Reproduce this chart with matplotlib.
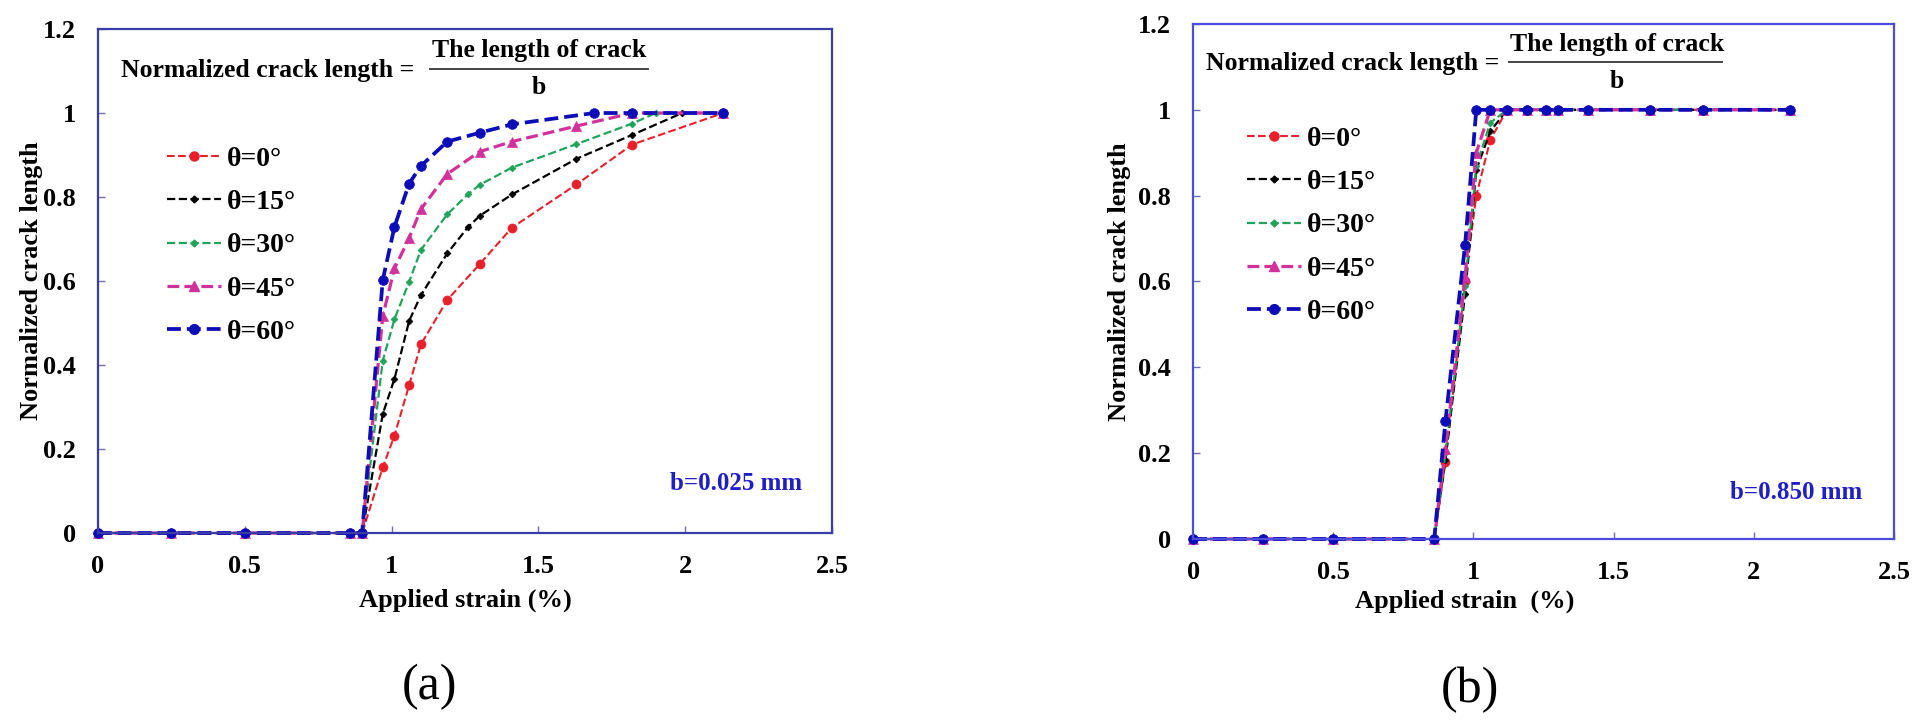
import numpy as np
import matplotlib.pyplot as plt
from matplotlib.lines import Line2D

plt.rcParams['font.family'] = ['Liberation Serif', 'DejaVu Serif']

## the data  (a) b = 0.025 mm
strain_a0 = [0, 0.25, 0.5, 0.86, 0.9, 0.97, 1.01, 1.06, 1.1, 1.19, 1.3, 1.41, 1.63, 1.82, 2.13]
crack_a0 = [0, 0, 0, 0, 0, 0.156, 0.232, 0.352, 0.449, 0.555, 0.64, 0.727, 0.83, 0.925, 1.0]

strain_a15 = [0, 0.25, 0.5, 0.86, 0.9, 0.97, 1.01, 1.06, 1.1, 1.19, 1.26, 1.3, 1.41, 1.63, 1.82, 1.99, 2.13]
crack_a15 = [0, 0, 0, 0, 0, 0.283, 0.367, 0.505, 0.566, 0.666, 0.728, 0.755, 0.806, 0.891, 0.948, 1.0, 1.0]

strain_a30 = [0, 0.25, 0.5, 0.86, 0.9, 0.97, 1.01, 1.06, 1.1, 1.19, 1.26, 1.3, 1.41, 1.63, 1.82, 1.9, 2.13]
crack_a30 = [0, 0, 0, 0, 0, 0.41, 0.509, 0.598, 0.674, 0.759, 0.806, 0.829, 0.87, 0.926, 0.975, 1.0, 1.0]

strain_a45 = [0, 0.25, 0.5, 0.86, 0.9, 0.97, 1.01, 1.06, 1.1, 1.19, 1.3, 1.41, 1.63, 1.82, 2.13]
crack_a45 = [0, 0, 0, 0, 0, 0.516, 0.63, 0.702, 0.771, 0.855, 0.908, 0.932, 0.969, 1.0, 1.0]

strain_a60 = [0, 0.25, 0.5, 0.86, 0.9, 0.97, 1.01, 1.06, 1.1, 1.19, 1.3, 1.41, 1.69, 1.82, 2.13]
crack_a60 = [0, 0, 0, 0, 0, 0.602, 0.729, 0.832, 0.874, 0.932, 0.953, 0.973, 1.0, 1.0, 1.0]

## (b) b = 0.850 mm
strain_b = [0, 0.25, 0.5, 0.86, 0.9, 0.97, 1.01, 1.06, 1.12, 1.19, 1.26, 1.3, 1.41, 1.63, 1.82, 2.13]
crack_b0 = [0, 0, 0, 0, 0.18, 0.6, 0.8, 0.93, 1, 1, 1, 1, 1, 1, 1, 1]
crack_b15 = [0, 0, 0, 0, 0.185, 0.57, 0.86, 0.95, 1, 1, 1, 1, 1, 1, 1, 1]
crack_b30 = [0, 0, 0, 0, 0.2, 0.59, 0.87, 0.97, 1, 1, 1, 1, 1, 1, 1, 1]
crack_b45 = [0, 0, 0, 0, 0.21, 0.61, 0.9, 1.0, 1, 1, 1, 1, 1, 1, 1, 1]
crack_b60 = [0, 0, 0, 0, 0.275, 0.685, 1.0, 1.0, 1, 1, 1, 1, 1, 1, 1, 1]

labels = ['θ=0°', 'θ=15°', 'θ=30°', 'θ=45°', 'θ=60°']
x_ticks = [0, 0.5, 1, 1.5, 2, 2.5]
x_tick_labels = ['0', '0.5', '1', '1.5', '2', '2.5']
y_ticks = [0, 0.2, 0.4, 0.6, 0.8, 1.0, 1.2]
y_tick_labels = ['0', '0.2', '0.4', '0.6', '0.8', '1', '1.2']

## styles: color, marker, markersize, linewidth
styles = [('#e8202a', 'o', 6.5, 1.5),
          ('black', 'D', 3.5, 1.6),
          ('#20a35a', 'D', 3.5, 1.6),
          ('#d2309a', '^', 6.5, 2.3),
          ('#0c0cb8', 'o', 7.0, 2.7)]

fig = plt.figure(figsize=(19.2, 7.2), dpi=100)
ax_a = fig.add_axes([0.0510, 0.2597, 0.3823, 0.7000])
ax_b = fig.add_axes([0.6214, 0.2514, 0.3651, 0.7153])


def draw(ax, xs, ys, spine_color):
    for x, y, (c, m, ms, lw) in zip(xs, ys, styles):
        ax.plot(x, y, linestyle='--', color=c, marker=m, markersize=ms,
                linewidth=lw, markeredgewidth=0.5, markeredgecolor=c,
                clip_on=False)
    ax.set_xlim(0, 2.5)
    ax.set_ylim(0, 1.2)
    ax.set_xticks(x_ticks)
    ax.set_xticklabels(x_tick_labels)
    ax.set_yticks(y_ticks)
    ax.set_yticklabels(y_tick_labels)
    ax.tick_params(direction='in', length=5, width=1, color='#7070b0',
                   labelsize=19, pad=16)
    for t in ax.get_xticklabels() + ax.get_yticklabels():
        t.set_fontweight('bold')
    for s in ax.spines.values():
        s.set_color(spine_color)
        s.set_linewidth(1.6)
    ax.set_ylabel('Normalized crack length', fontsize=19, fontweight='bold')
    handles = [Line2D([], [], linestyle='--', color=c, marker=m, markersize=ms,
                      linewidth=lw, markeredgecolor=c) for c, m, ms, lw in styles]
    return handles


def formula(ax, x0, yc, xb0, xb1, xc, ynum, yden, ybar):
    fs = 18.5
    ax.text(x0, yc, 'Normalized crack length =', transform=ax.transAxes,
            fontsize=fs, fontweight='bold', ha='left', va='center')
    ax.text(xc, ynum, 'The length of crack', transform=ax.transAxes,
            fontsize=fs, fontweight='bold', ha='center', va='center')
    ax.text(xc, yden, 'b', transform=ax.transAxes,
            fontsize=fs, fontweight='bold', ha='center', va='center')
    ax.plot([xb0, xb1], [ybar, ybar], transform=ax.transAxes,
            color='#444444', linewidth=1.4, clip_on=False)


# (a)
h = draw(ax_a, [strain_a0, strain_a15, strain_a30, strain_a45, strain_a60],
         [crack_a0, crack_a15, crack_a30, crack_a45, crack_a60], '#3c3ca6')
ax_a.legend(h, labels, loc='upper left', bbox_to_anchor=(0.094, 0.767),
            frameon=False, handlelength=1.95, handletextpad=0.2,
            labelspacing=0.64, borderpad=0, borderaxespad=0,
            prop={'size': 20, 'weight': 'bold'})
formula(ax_a, 0.031, 0.917, 0.452, 0.749, 0.601, 0.958, 0.884, 0.921)
ax_a.text(0.959, 0.099, 'b=0.025 mm', transform=ax_a.transAxes, fontsize=18,
          fontweight='bold', color='#1f1fc8', ha='right', va='center')
ax_a.set_xlabel('Applied strain (%)', fontsize=19, fontweight='bold')
ax_a.xaxis.set_label_coords(0.5, -0.11)
ax_a.yaxis.set_label_coords(-0.075, 0.5)

# (b)
h = draw(ax_b, [strain_b] * 5,
         [crack_b0, crack_b15, crack_b30, crack_b45, crack_b60], '#4c4ce0')
ax_b.legend(h, labels, loc='upper left', bbox_to_anchor=(0.077, 0.801),
            frameon=False, handlelength=1.95, handletextpad=0.2,
            labelspacing=0.64, borderpad=0, borderaxespad=0,
            prop={'size': 20, 'weight': 'bold'})
formula(ax_b, 0.019, 0.924, 0.451, 0.755, 0.605, 0.961, 0.889, 0.926)
ax_b.text(0.954, 0.091, 'b=0.850 mm', transform=ax_b.transAxes, fontsize=18,
          fontweight='bold', color='#1f1fc8', ha='right', va='center')
ax_b.set_xlabel('Applied strain  (%)', fontsize=19, fontweight='bold')
ax_b.xaxis.set_label_coords(0.388, -0.098)
ax_b.yaxis.set_label_coords(-0.088, 0.5)

fig.text(430 / 1920, 1 - 687 / 720, '(a)', fontsize=36, ha='center', va='center')
fig.text(1470 / 1920, 1 - 690 / 720, '(b)', fontsize=36, ha='center', va='center')

fig.savefig('out.png', dpi=100)
